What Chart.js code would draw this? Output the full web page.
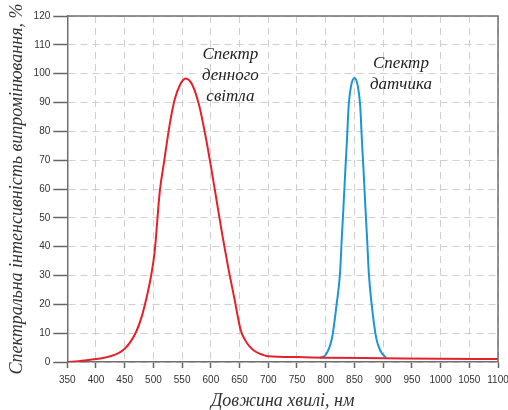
<!DOCTYPE html>
<html>
<head>
<meta charset="utf-8">
<script src="https://cdn.jsdelivr.net/npm/chart.js@4"></script>
<style>
  html, body { margin: 0; padding: 0; background: #fff; }
  #wrap { width: 508px; height: 410px; }
</style>
</head>
<body>
<div id="wrap"><canvas id="myChart" width="508" height="410"></canvas></div>
<script>
// wavelength (nm) and intensity (%)
const daylightNm = [350, 370, 390, 410, 425, 440, 450, 460, 470, 480, 490, 496, 502, 511, 519, 528, 537, 546, 556, 568, 580, 592, 600, 610, 620, 630, 641, 652, 660, 667, 675, 684, 700, 750, 800, 900, 1000, 1100];
const daylightVal = [0, 0.3, 0.8, 1.3, 2, 3.2, 4.6, 7, 10.5, 16, 24, 30, 38, 59, 70, 82, 91, 96, 98.3, 96, 88.7, 77, 68, 56, 44, 33, 22, 11, 7.5, 5.5, 4, 3, 2, 1.7, 1.5, 1.3, 1.1, 1.0];

const sensorNm = [790, 800, 811, 819, 825, 828, 831, 834, 837, 840, 844, 850, 856, 860, 863, 866, 869, 872, 875, 880, 888, 895, 905];
const sensorVal = [1.5, 2.5, 8.3, 20, 31, 43, 54, 66, 77, 89, 95.6, 98.5, 95.6, 89, 77, 66, 54, 43, 31, 20, 8.3, 4, 1.5];

const xTicks = [350, 400, 450, 500, 550, 600, 650, 700, 750, 800, 850, 900, 950, 1000, 1050, 1100];
const yTicks = [0, 10, 20, 30, 40, 50, 60, 70, 80, 90, 100, 110, 120];

const daylightLabel = ['Спектр', 'денного', 'світла'];
const sensorLabel = ['Спектр', 'датчика'];
const daylightLabelAt = { x: 634, y: 106.5 };
const sensorLabelAt = { x: 931, y: 103.5 };

const toPoints = (xs, ys) => xs.map((x, i) => ({ x: x, y: ys[i] }));

// frame on top and right + curve captions
const extras = {
  id: 'extras',
  afterDraw(chart) {
    const { ctx, chartArea: a, scales } = chart;
    ctx.save();
    ctx.strokeStyle = '#707070';
    ctx.lineWidth = 1.5;
    ctx.beginPath();
    ctx.moveTo(a.left, a.top);
    ctx.lineTo(a.right, a.top);
    ctx.lineTo(a.right, a.bottom);
    ctx.stroke();

    ctx.fillStyle = '#222';
    ctx.font = 'italic 17px "Liberation Serif"';
    ctx.textAlign = 'center';
    ctx.textBaseline = 'middle';
    const drawLines = (lines, at) => {
      const cx = scales.x.getPixelForValue(at.x);
      const cy = scales.y.getPixelForValue(at.y);
      lines.forEach((t, i) => ctx.fillText(t, cx, cy + i * 21));
    };
    drawLines(daylightLabel, daylightLabelAt);
    drawLines(sensorLabel, sensorLabelAt);
    ctx.restore();
  }
};

const ctx = document.getElementById('myChart').getContext('2d');
new Chart(ctx, {
  type: 'line',
  data: {
    datasets: [
      {
        label: 'daylight',
        data: toPoints(daylightNm, daylightVal),
        borderColor: '#e3222b',
        borderWidth: 2,
        pointRadius: 0,
        cubicInterpolationMode: 'monotone',
        fill: false
      },
      {
        label: 'sensor',
        data: toPoints(sensorNm, sensorVal),
        borderColor: '#1b95d6',
        borderWidth: 2,
        pointRadius: 0,
        cubicInterpolationMode: 'monotone',
        fill: false
      }
    ]
  },
  options: {
    responsive: false,
    animation: false,
    layout: { padding: { top: 16, left: 2, right: 0, bottom: 0 } },
    plugins: { legend: { display: false }, tooltip: { enabled: false } },
    scales: {
      x: {
        type: 'linear',
        min: 350,
        max: 1100,
        afterBuildTicks: (axis) => { axis.ticks = xTicks.map(v => ({ value: v })); },
        // let the last label run off the edge like in the original
        afterFit: (axis) => { axis.paddingRight = 10; },
        ticks: {
          color: '#333',
          font: { family: 'Liberation Sans', size: 10 },
          maxRotation: 0,
          autoSkip: false,
          padding: 6,
          callback: (v) => String(v)
        },
        grid: {
          color: '#cfcfcf',
          lineWidth: 1,
          tickLength: 6,
          tickColor: '#666',
          tickWidth: 1.5,
          tickBorderDash: []
        },
        border: { color: '#707070', width: 1.5, dash: [7, 5] },
        title: {
          display: true,
          text: 'Довжина хвилі, нм',
          color: '#333',
          font: { family: 'Liberation Serif', size: 18, style: 'italic', lineHeight: 1 },
          padding: { top: 0, bottom: 0 }
        }
      },
      y: {
        min: 0,
        max: 120,
        afterBuildTicks: (axis) => { axis.ticks = yTicks.map(v => ({ value: v })); },
        ticks: {
          color: '#333',
          font: { family: 'Liberation Sans', size: 10 },
          padding: 3
        },
        grid: {
          color: '#cfcfcf',
          lineWidth: 1,
          tickLength: 14,
          tickColor: '#666',
          tickWidth: 1.5,
          tickBorderDash: []
        },
        border: { color: '#707070', width: 1.5, dash: [7, 5] },
        title: {
          display: true,
          text: 'Спектральна інтенсивність випромінювання, %',
          color: '#333',
          font: { family: 'Liberation Serif', size: 18, style: 'italic' },
          padding: { top: 4, bottom: 3 }
        }
      }
    }
  },
  plugins: [extras]
});
</script>
</body>
</html>
